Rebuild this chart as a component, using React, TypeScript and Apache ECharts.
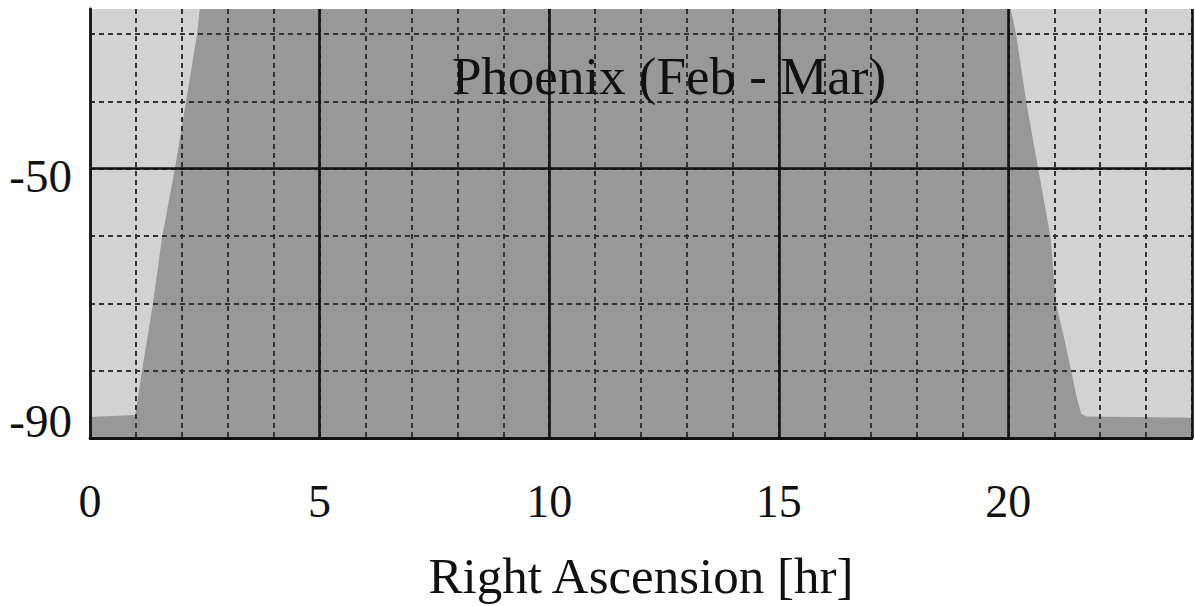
import React, { useEffect, useRef } from "react";
import * as echarts from "echarts";

// Horizon limit (declination) as a function of right ascension
const raHours = [0, 0.98, 1.0, 1.13, 1.37, 1.57, 1.85, 2.09, 2.33, 2.39, 2.49, 19.9, 20.05, 20.17, 20.39, 20.65, 20.92, 21.04, 21.22, 21.37, 21.5, 21.59, 21.7, 24];
const horizonDec = [-86.9, -86.6, -86.0, -80.1, -70.1, -60.2, -50, -40.1, -30.1, -26.3, -20, -20, -26.3, -30.1, -40.1, -50, -60.2, -70.1, -75.3, -80.1, -84.3, -86.4, -86.8, -87.0];

const xTickLabels = [0, 5, 10, 15, 20];
const yTickLabels = [-50, -90];
const majorHours = [5, 10, 15, 20, 24];
const majorDecs = [-50];

const titleText = "Phoenix (Feb - Mar)";
const xAxisName = "Right Ascension [hr]";

const FONT = "'Liberation Serif', 'Times New Roman', serif";

export default function App() {
  const ref = useRef<HTMLDivElement>(null);
  useEffect(() => {
    if (!ref.current) return;
    const chart = echarts.init(ref.current, null, { renderer: "svg" });
    const dash = { color: "#333", width: 2, type: [5, 4] as any };
    chart.setOption({
      animation: false,
      grid: {
        left: 90,
        right: 3,
        top: 9,
        bottom: 167,
        show: true,
        backgroundColor: "#d2d2d2",
        borderWidth: 0,
      },
      xAxis: {
        type: "value",
        min: 0,
        max: 24,
        interval: 1,
        z: 3,
        axisLine: { show: true, lineStyle: { color: "#111", width: 2.8 } },
        axisTick: { show: false },
        splitLine: { show: true, showMinLine: false, lineStyle: dash },
        axisLabel: {
          margin: 40,
          fontFamily: FONT,
          fontSize: 46,
          color: "#111",
          showMaxLabel: false,
          formatter: (v: number) => (xTickLabels.includes(v) ? String(v) : ""),
        },
        name: xAxisName,
        nameLocation: "middle",
        nameGap: 112,
        nameTextStyle: { fontFamily: FONT, fontSize: 51, color: "#111" },
      },
      yAxis: {
        type: "value",
        min: -90,
        max: -26.3,
        interval: 10,
        z: 3,
        axisLine: { show: true, lineStyle: { color: "#111", width: 2.8 } },
        axisTick: { show: false },
        splitLine: { show: true, showMinLine: false, showMaxLine: false, lineStyle: dash },
        axisLabel: {
          margin: 18,
          showMaxLabel: false,
          formatter: (v: number) =>
            yTickLabels.includes(v) ? (v === -90 ? "{b|" + v + "}" : "{a|" + v + "}") : "",
          rich: {
            a: { fontFamily: FONT, fontSize: 47, color: "#111", padding: [14, 0, 0, 0] },
            b: { fontFamily: FONT, fontSize: 47, color: "#111", padding: [0, 0, 34, 0] },
          },
        },
      },
      graphic: [
        {
          type: "text",
          z: 10,
          style: {
            text: titleText,
            x: 669,
            y: 76,
            textAlign: "center",
            textVerticalAlign: "middle",
            font: "53px " + FONT,
            fill: "#111",
          },
        },
      ],
      series: [
        {
          type: "line",
          z: 1,
          data: raHours.map((x, i) => [x, horizonDec[i]]),
          symbol: "none",
          lineStyle: { width: 0 },
          areaStyle: { color: "#989898", opacity: 1, origin: "start" },
          markLine: {
            silent: true,
            z: 5,
            symbol: ["none", "none"],
            label: { show: false },
            lineStyle: { color: "#111", width: 2.6, type: "solid" },
            data: [
              ...majorHours.map((h) => ({ xAxis: h })),
              ...majorDecs.map((d) => ({ yAxis: d })),
            ],
          },
        },
      ],
    });
    return () => chart.dispose();
  }, []);
  return (
    <div
      ref={ref}
      style={{ position: "fixed", left: 0, top: 0, width: 1195, height: 606, background: "#fff" }}
    />
  );
}
